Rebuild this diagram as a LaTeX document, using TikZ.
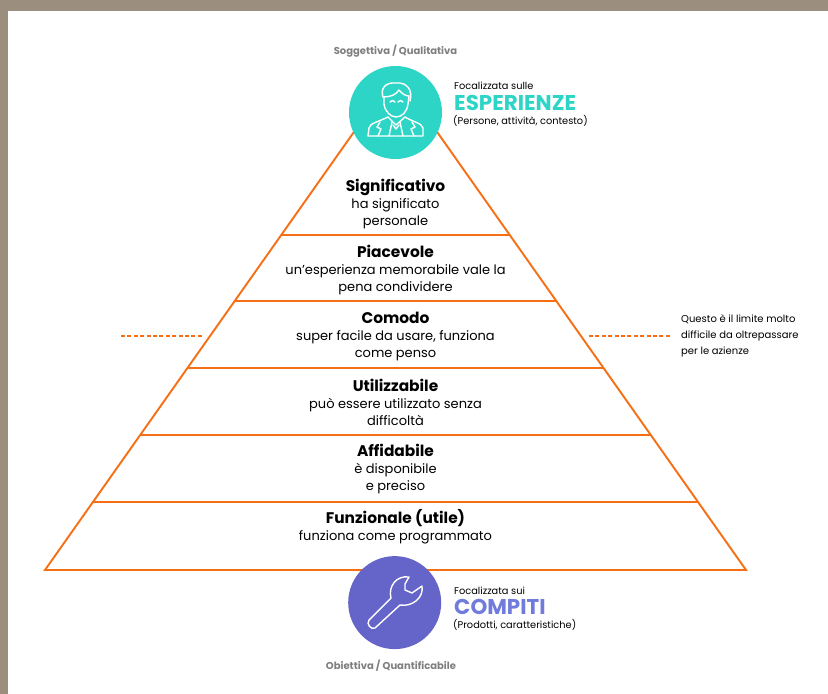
\documentclass[tikz,border=0pt]{standalone}
\usepackage{fontspec}
\setmainfont{Poppins}
\definecolor{framebrown}{HTML}{9C8E7F}
\definecolor{pyrorange}{HTML}{F76F14}
\definecolor{expteal}{HTML}{2DD5C6}
\definecolor{taskviolet}{HTML}{6464C9}
\definecolor{taskblue}{HTML}{717BDB}
\definecolor{notegray}{HTML}{7F7F7F}
\newcommand{\lvlname}[1]{{\fontsize{15.4}{17}\selectfont\bfseries #1}}
\tikzset{
  pyrline/.style={draw=pyrorange,line width=1.9pt,line join=miter},
  limitline/.style={draw=pyrorange,line width=1.4pt,dash pattern=on 4pt off 2.4pt},
  levelbox/.style={align=center,font=\fontsize{13}{17}\selectfont,text=black,inner sep=0pt},
  sidebox/.style={anchor=west,inner sep=0pt,font=\fontsize{9.8}{12}\selectfont},
  bigword/.style={anchor=west,inner sep=0pt,font=\fontsize{21.4}{22}\selectfont\bfseries},
  axisname/.style={inner sep=0pt,text=notegray,font=\fontsize{10}{12}\selectfont\bfseries},
  iconline/.style={draw=white,line width=1.4pt,line join=round,line cap=round},
}
\begin{document}
\begin{tikzpicture}[x=1pt,y=-1pt]
\useasboundingbox (0,0) rectangle (828,694);
% Frame
\fill[framebrown] (0,0) rectangle (828,694);
\fill[white] (8,11) rectangle (828,694);

% Pyramid
\coordinate (apex) at (395.5,73);
\coordinate (baseL) at (45,570);
\coordinate (baseR) at (746,570);
\draw[pyrline] (apex) -- (baseL) -- (baseR) -- cycle;

% Level lines
\foreach \y/\xa/\xb in {235/281/510,301/234/556,368/187/604,435/140/651,502/92/698} {
  \draw[pyrline] (\xa,\y) -- (\xb,\y);
}

% Limit markers
\coordinate (limitLa) at (121,336);
\coordinate (limitLb) at (203,336);
\coordinate (limitRa) at (589,336);
\coordinate (limitRb) at (671,336);
\draw[limitline] (limitLa) -- (limitLb);
\draw[limitline] (limitRa) -- (limitRb);

% Level labels
\node[levelbox] (significativo) at (395.5,204) {\lvlname{Significativo}\\ha significato\\personale};
\node[levelbox] (piacevole) at (395.5,270) {\lvlname{Piacevole}\\un'esperienza memorabile vale la\\pena condividere};
\node[levelbox] (comodo) at (395.5,336.500) {\lvlname{Comodo}\\super facile da usare, funziona\\come penso};
\node[levelbox] (utilizzabile) at (395.5,402.500) {\lvlname{Utilizzabile}\\può essere utilizzato senza\\difficoltà};
\node[levelbox] (affidabile) at (395.5,469) {\lvlname{Affidabile}\\è disponibile\\e preciso};
\node[levelbox] (funzionale) at (395.5,526.500) {\lvlname{Funzionale (utile)}\\funziona come programmato};

% Circles
\fill[expteal] (395.5,112.5) circle (46.5);
\fill[taskviolet] (394.7,602.6) circle (46.5);

% Person icon
\draw[iconline] (383,97) .. controls (380,88) and (386,82) .. (396,83) .. controls (407,82) and (413,90) .. (410,101);
\draw[iconline] (383,97) .. controls (390,97) and (396,95) .. (399,90) .. controls (402,94) and (406,96) .. (409,96);
\draw[iconline] (384,97) -- (384,104) .. controls (385,112) and (391,117) .. (396,117) .. controls (402,117) and (407,112) .. (408,104) -- (409,96);
\draw[iconline] (390,102) .. controls (391,100) and (394,100) .. (395,102);
\draw[iconline] (398,102) .. controls (399,100) and (402,100) .. (403,102);
\draw[iconline] (368,136) -- (369,128) .. controls (370,123) and (378,122) .. (388,117) -- (396,125) -- (405,117) .. controls (413,122) and (422,123) .. (423,128) -- (423,136) -- cycle;
\draw[iconline] (392,122) -- (389,136);
\draw[iconline] (400,122) -- (403,136);
\draw[iconline] (393,125) -- (396,129) -- (399,125);
\draw[iconline] (380,122) -- (377,127) -- (381,129) -- (378,136);
\draw[iconline] (412,122) -- (415,127) -- (411,129) -- (414,136);

% Wrench icon
\draw[iconline] (409,577) .. controls (396,575) and (388,587) .. (391,598) -- (369,620) .. controls (366,624) and (371,630) .. (375,628) -- (400,605) .. controls (412,607) and (424,598) .. (422,586) -- (412,593) -- (405,590) -- (405,584) -- cycle;

% Axis names
\node[axisname] (soggettiva) at (395.5,51) {Soggettiva / Qualitativa};
\node[axisname] (obiettiva) at (391,666) {Obiettiva / Quantificabile};

% Top side text
\node[sidebox] (espA) at (454,86) {Focalizzata sulle};
\node[bigword,text=expteal] (espB) at (454,103) {ESPERIENZE};
\node[sidebox] (espC) at (453,121) {(Persone, attività, contesto)};

% Bottom side text
\node[sidebox] (comA) at (454,591) {Focalizzata sui};
\node[bigword,text=taskblue] (comB) at (454,607) {COMPITI};
\node[sidebox] (comC) at (453,625) {(Prodotti, caratteristiche)};

% Limit note
\node[sidebox,align=left,font=\fontsize{10}{16}\selectfont] (limitnote) at (681,336) {Questo è il limite molto\\difficile da oltrepassare\\per le azienze};
\end{tikzpicture}
\end{document}
